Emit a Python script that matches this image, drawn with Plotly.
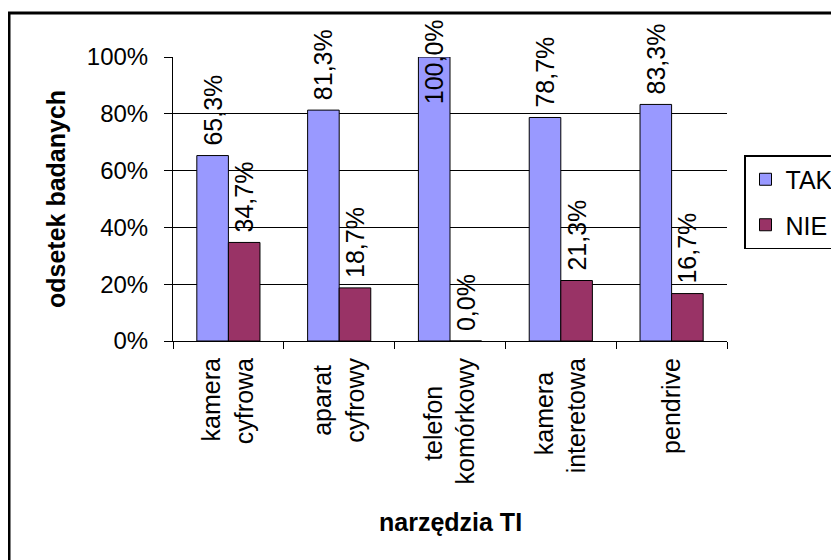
import plotly.graph_objects as go

categories = ["kamera<br>cyfrowa", "aparat<br>cyfrowy", "telefon<br>komórkowy", "kamera<br>interetowa", "pendrive"]
tak = [65.3, 81.3, 100.0, 78.7, 83.3]
nie = [34.7, 18.7, 0.0, 21.3, 16.7]
y_ticks = [0, 20, 40, 60, 80, 100]
y_ticktext = ["0%", "20%", "40%", "60%", "80%", "100%"]
x_title = "narzędzia TI"
y_title = "odsetek badanych"

NB = "\u00a0"
# visual centring padding of the shorter line in each rotated two-line label
tick_pad = [("", ""), (NB, ""), (NB * 4, ""), (NB * 2, ""), ("", "")]

W, H = 839, 560
OFF = 8  # page offset of the plot inside the browser
ML, MR, MT, MB = 173 - OFF, 112 + OFF, 57 - OFF, 219 + OFF
PW, PH = W - ML - MR, H - MT - MB
BARGAP = 0.43

FONT = "Liberation Sans, Arial, sans-serif"
FS = 25

def fmt(v):
    return f"{v:.1f}".replace(".", ",") + "%"

def ticklabel(cat, pad):
    parts = cat.split("<br>")
    if len(parts) == 2:
        return parts[0] + pad[0] + "<br>" + parts[1] + pad[1]
    return cat

def px_x(p):
    return (p - OFF - ML) / PW

def px_y(p):
    return (H - MB - (p - OFF)) / PH

full = [v >= 100 for v in tak]
tak_text = ["" if f else NB + fmt(v) for v, f in zip(tak, full)]

fig = go.Figure()
fig.add_trace(go.Bar(
    name="TAK", x=categories, y=tak, legendgroup="tak",
    marker=dict(color="#9999FF", line=dict(color="black", width=1)),
    text=tak_text, textposition="outside", textangle=-90,
    textfont=dict(family=FONT, size=FS, color="black"),
    cliponaxis=False, constraintext="none",
))
fig.add_trace(go.Bar(
    name="NIE", x=categories, y=nie, legendgroup="nie",
    marker=dict(color="#993366", line=dict(color="black", width=1)),
    text=[NB + fmt(v) for v in nie], textposition="outside", textangle=-90,
    textfont=dict(family=FONT, size=FS, color="black"),
    cliponaxis=False, constraintext="none",
))

# label of the full-height bar, kept inside the chart frame as in the original
bar_w = PW / len(categories) * (1 - BARGAP) / 2
annotations = []
for c, v, f in zip(categories, tak, full):
    if f:
        annotations.append(dict(
            x=c, y=v, xref="x", yref="y", text=fmt(v), textangle=-90,
            showarrow=False, xanchor="center", yanchor="middle",
            xshift=-bar_w / 2, yshift=-5,
            font=dict(family=FONT, size=FS, color="black"),
        ))

# axis titles
annotations.append(dict(
    xref="paper", yref="paper", x=px_x(56), y=0.5, text=f"<b>{y_title}</b>",
    textangle=-90, showarrow=False, xanchor="center", yanchor="middle",
    font=dict(family=FONT, size=FS, color="black"),
))
annotations.append(dict(
    xref="paper", yref="paper", x=0.5, y=px_y(522), text=f"<b>{x_title}</b>",
    showarrow=False, xanchor="center", yanchor="middle",
    font=dict(family=FONT, size=FS, color="black"),
))

fig.update_layout(
    width=W, height=H,
    margin=dict(l=ML, r=MR, t=MT, b=MB, autoexpand=False),
    paper_bgcolor="white", plot_bgcolor="white",
    font=dict(family=FONT, size=FS, color="black"),
    barmode="group", bargap=BARGAP, bargroupgap=0,
    showlegend=True,
    legend=dict(
        x=px_x(744), y=px_y(155), xanchor="left", yanchor="top",
        bordercolor="black", borderwidth=1.5, bgcolor="white",
        font=dict(family=FONT, size=FS, color="black"),
        itemwidth=30, tracegroupgap=10,
    ),
    xaxis=dict(
        type="category", tickson="boundaries", ticks="outside", ticklen=7,
        tickcolor="black", tickwidth=1,
        showline=True, linecolor="black", linewidth=1,
        tickangle=-90, showgrid=False,
        tickvals=categories,
        ticktext=[ticklabel(c, p) for c, p in zip(categories, tick_pad)],
        ticklabelstandoff=6,
        tickfont=dict(family=FONT, size=FS, color="black"),
    ),
    yaxis=dict(
        range=[0, 100], tickvals=y_ticks, ticktext=y_ticktext,
        ticks="outside", ticklen=8, tickcolor="black", tickwidth=1,
        showline=True, linecolor="black", linewidth=1,
        showgrid=True, gridcolor="black", gridwidth=1,
        zeroline=False, ticklabelstandoff=11,
        tickfont=dict(family=FONT, size=24, color="black"),
    ),
    annotations=annotations,
    shapes=[
        dict(type="rect", xref="paper", yref="paper",
             x0=px_x(9), x1=px_x(W + 40), y0=px_y(H + 40), y1=px_y(13),
             line=dict(color="black", width=3), fillcolor="rgba(0,0,0,0)",
             layer="below"),
    ],
)

fig.write_html("out.html")
